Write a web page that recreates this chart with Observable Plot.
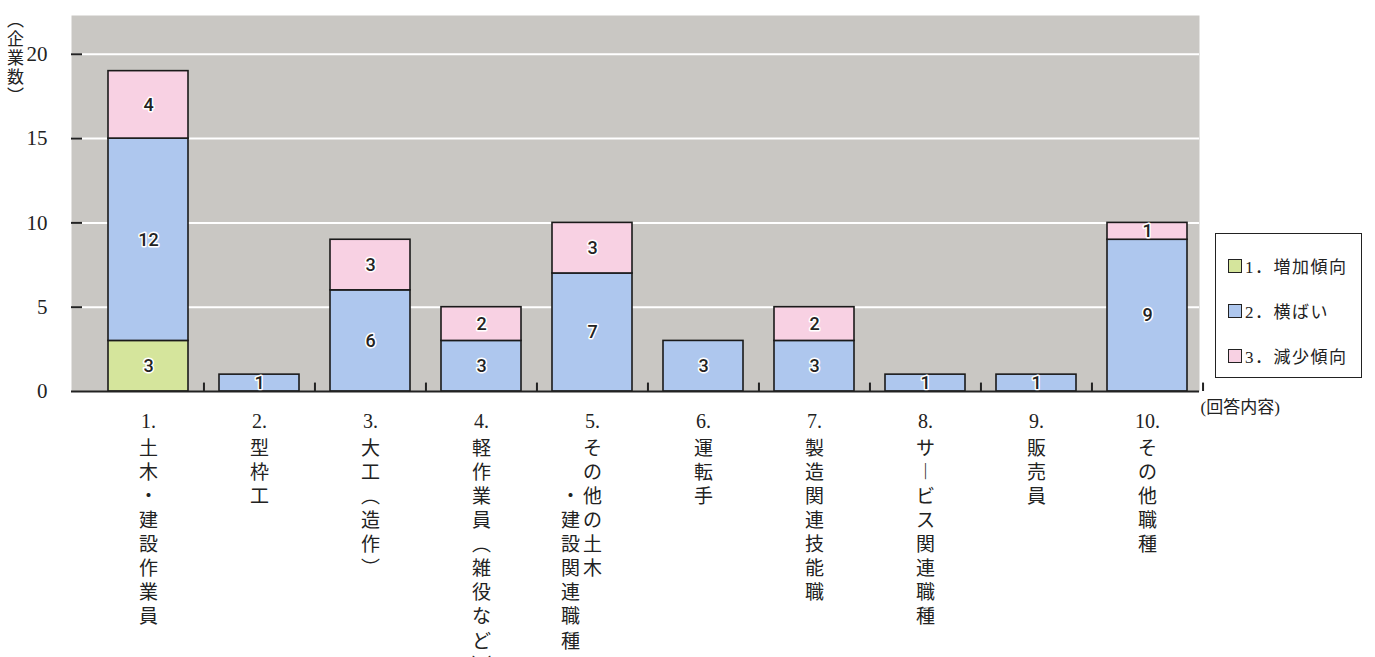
<!DOCTYPE html>
<html lang="ja">
<head>
<meta charset="utf-8">
<script src="https://cdn.jsdelivr.net/npm/d3@7"></script>
<script src="https://cdn.jsdelivr.net/npm/@observablehq/plot@0.6"></script>
<style>
  html, body { margin: 0; padding: 0; background: white; }
  #wrap { position: relative; width: 1375px; height: 657px; overflow: hidden; }
  #legend { position: absolute; left: 1215px; top: 233px; width: 147px; height: 145px;
    border: 1.5px solid #222; box-sizing: border-box; background: white;
    font-family: "Liberation Serif", "Noto Sans CJK JP", serif; font-size: 17px; color: #222; letter-spacing: 1.5px; }
  .row { position: absolute; left: 12px; display: flex; align-items: center; white-space: nowrap; }
  .sw { width: 12px; height: 12px; border: 1.5px solid #222; margin-right: 3px; }
</style>
</head>
<body>
<div id="wrap"><div id="chart"></div><div id="legend"></div></div>
<script>
const categories = ["1", "2", "3", "4", "5", "6", "7", "8", "9", "10"];
const labelTop = ["1.", "2.", "3.", "4.", "5.", "6.", "7.", "8.", "9.", "10."];
const labelMain = ["土木・建設作業員", "型枠工", "大工︵造作︶", "軽作業員︵雑役など︶", "その他の土木", "運転手", "製造関連技能職", "サ︱ビス関連職種", "販売員", "その他職種"];
const labelSub = ["", "", "", "", "・建設関連職種", "", "", "", "", ""];
const series = ["1．増加傾向", "2．横ばい", "3．減少傾向"];
const increase = [3, 0, 0, 0, 0, 0, 0, 0, 0, 0];
const flat = [12, 1, 6, 3, 7, 3, 3, 1, 1, 9];
const decrease = [4, 0, 3, 2, 3, 0, 2, 0, 0, 1];
const colors = ["#d5e59c", "#aec7ee", "#f8d1e3"];
const yTicks = [0, 5, 10, 15, 20];
const yLabel = "︵企業数︶";
const xLabel = "(回答内容)";

const rows = categories.flatMap((c, i) =>
  [[series[0], increase[i]], [series[1], flat[i]], [series[2], decrease[i]]]
    .filter(([, v]) => v > 0)
    .map(([s, v]) => ({category: c, series: s, value: v})));

const vert = s => Array.from(s).join("\n");
const tops = categories.map((c, i) => ({category: c, text: labelTop[i]}));
const mains = categories.map((c, i) => ({category: c, text: vert(labelMain[i])}));
const subs = categories.map((c, i) => ({category: c, text: vert(labelSub[i])})).filter(d => d.text);

const serif = "'Liberation Serif', 'Noto Sans CJK JP', serif";
const step = 111.1;
const lh = 24.1;

const chart = Plot.plot({
  width: 1375, height: 657,
  marginLeft: 71, marginRight: 176, marginTop: 15, marginBottom: 266,
  style: {background: "white", fontFamily: serif, color: "#222"},
  x: {domain: categories, axis: null, paddingInner: 0.28, paddingOuter: 0.2075, align: 0.76},
  y: {domain: [0, 22.3], axis: null},
  color: {domain: series, range: colors},
  marks: [
    Plot.frame({fill: "#c9c7c3", stroke: null}),
    Plot.gridY(yTicks.slice(1), {stroke: "white", strokeOpacity: 1, strokeWidth: 2}),
    Plot.axisY({ticks: yTicks.slice(1), text: null, tickSize: 11, dx: 11, stroke: "#222", strokeWidth: 2, label: null}),
    Plot.axisY({ticks: yTicks, tickSize: 0, tickPadding: 24, fontSize: 21, fontFamily: serif, line: true, stroke: "#222", strokeWidth: 2, label: null}),
    Plot.barY(rows, {x: "category", y: "value", fill: "series", stroke: "#1a1a1a", strokeWidth: 1.6}),
    Plot.text(rows, Plot.stackY({x: "category", y: "value", text: "value", fill: "#222", stroke: "white", strokeWidth: 3, paintOrder: "stroke", fontSize: 18, fontFamily: "Roboto", fontWeight: 500})),
    Plot.ruleY([0], {stroke: "#222", strokeWidth: 2}),
    Plot.ruleX(categories.slice(1), {x: d => d, dx: -step / 2, y1: 0, y2: 0.5, stroke: "#222", strokeWidth: 2}),
    Plot.ruleX(categories.slice(-1), {x: d => d, dx: step / 2, y1: 0, y2: 0.5, stroke: "#222", strokeWidth: 2}),
    Plot.text(tops, {x: "category", text: "text", frameAnchor: "bottom", lineAnchor: "top", dy: 22, fontSize: 20, fontFamily: serif, fill: "#222"}),
    Plot.text(mains, {x: "category", text: "text", frameAnchor: "bottom", lineAnchor: "top", dy: 22 + lh, lineHeight: lh / 19, fontSize: 19, fontFamily: serif, fill: "#222"}),
    Plot.text(subs, {x: "category", text: "text", frameAnchor: "bottom", lineAnchor: "top", dx: -22, dy: 22 + lh * 3, lineHeight: lh / 19, fontSize: 19, fontFamily: serif, fill: "#222"}),
    Plot.text([yLabel], {text: d => vert(d), frameAnchor: "top-left", textAnchor: "middle", lineAnchor: "top", dx: -56, dy: -3, lineHeight: 1.12, fontSize: 17, fontFamily: serif, fill: "#222"}),
    Plot.text([xLabel], {text: d => d, frameAnchor: "bottom-right", textAnchor: "start", dx: 1, dy: 21, fontSize: 17, fontFamily: serif, fill: "#222", letterSpacing: 1})
  ]
});
document.getElementById("chart").appendChild(chart);

const legend = document.getElementById("legend");
series.forEach((s, i) => {
  const row = document.createElement("div");
  row.className = "row";
  row.style.top = (19 + i * 45) + "px";
  const sw = document.createElement("div");
  sw.className = "sw";
  sw.style.background = colors[i];
  const t = document.createElement("span");
  t.textContent = s;
  row.appendChild(sw);
  row.appendChild(t);
  legend.appendChild(row);
});
</script>
</body>
</html>
